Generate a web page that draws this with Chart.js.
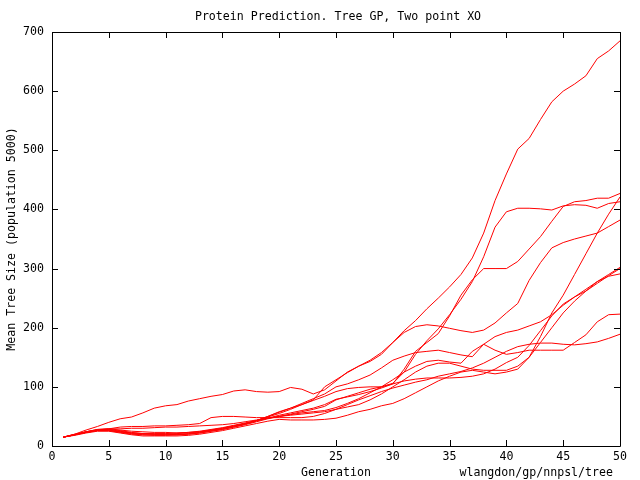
<!DOCTYPE html>
<html>
<head>
<meta charset="utf-8">
<script src="https://cdn.jsdelivr.net/npm/chart.js@4.4.1/dist/chart.umd.min.js"></script>
<style>
html,body{margin:0;padding:0;background:#fff;}
#wrap{width:640px;height:480px;}
</style>
</head>
<body>
<div id="wrap"><canvas id="c" width="640" height="480"></canvas></div>
<script>
const titleText = "Protein Prediction. Tree GP, Two point XO";
const xLabel = "Generation";
const yLabel = "Mean Tree Size (population 5000)";
const creditText = "wlangdon/gp/nnpsl/tree";

const generations = [1,2,3,4,5,6,7,8,9,10,11,12,13,14,15,16,17,18,19,20,21,22,23,24,25,26,27,28,29,30,31,32,33,34,35,36,37,38,39,40,41,42,43,44,45,46,47,48,49,50];

const runA = [15,19,23,27,28,25,22,21,20,20, 21,22,24,27,30,34,38,43,49,55, 62,70,78,100,112,124,135,145,158,175, 195,212,232,250,269,290,318,360,415,460, 502,520,552,582,600,612,626,655,668,685];
const runB = [15,20,24,28,29,27,25,24,23,23, 22,23,24,27,30,34,38,43,50,58, 64,70,77,84,92,97,99,100,100,106, 125,155,178,198,222,248,278,320,370,396, 402,402,401,399,406,408,407,402,410,413];
const runC = [15,19,24,27,27,24,21,19,18,18, 19,20,22,25,28,32,36,41,46,50, 54,58,62,67,78,84,90,96,100,105, 130,160,175,190,220,255,281,300,300,300, 312,333,354,380,405,413,415,419,419,427];
const runD = [15,20,27,33,40,46,49,56,64,68, 70,76,80,84,87,93,95,92,91,92, 99,96,88,95,110,125,135,143,155,175, 192,202,205,203,199,195,192,196,208,225, 241,280,310,335,344,350,355,360,371,382];
const runE = [15,19,23,26,26,23,20,19,19,19, 19,21,23,26,29,33,37,42,47,52, 56,60,64,70,79,83,87,92,98,105, 110,113,115,115,115,116,118,122,130,141, 150,170,195,220,240,252,262,275,288,300];
const runF = [15,19,23,27,28,26,23,21,20,20, 19,20,22,25,28,32,37,43,50,57, 64,72,80,88,100,105,112,120,132,145, 152,158,160,162,158,154,151,172,185,192, 196,203,210,222,238,252,265,278,287,291];
const runG = [15,19,24,28,29,29,30,30,31,32, 32,33,34,35,36,38,41,44,47,50, 52,54,56,58,62,66,70,78,88,100, 112,125,135,140,140,135,130,128,128,128, 135,150,175,200,225,245,262,278,290,302];
const runH = [15,19,23,26,26,24,22,21,21,21, 22,23,25,28,31,35,39,43,47,50, 53,56,58,60,65,72,80,90,100,112, 125,135,143,145,142,140,160,172,162,155, 158,162,162,162,162,175,188,210,222,223];
const runI = [15,19,24,27,29,32,33,33,34,34, 35,36,38,48,50,50,49,48,48,48, 48,48,50,55,62,70,78,85,92,98, 103,108,112,118,122,126,132,140,150,160, 168,172,174,174,172,171,173,176,182,189];
const runJ = [15,18,22,25,25,22,19,17,17,17, 17,18,20,23,26,30,34,38,42,45, 44,44,44,45,47,52,58,62,68,72, 80,90,100,110,118,125,128,125,122,125, 130,150,185,225,255,290,325,360,392,421];

const runs = [runA, runB, runC, runD, runE, runF, runG, runH, runI, runJ];

const FONT = "DejaVu Sans Mono";
const FS = 11.6;

const datasets = runs.map(r => ({
  data: r.map((v, i) => ({x: generations[i], y: v})),
  borderColor: '#ff0000',
  borderWidth: 1,
  pointRadius: 0,
  tension: 0,
  fill: false
}));

const gnuplotFrame = {
  id: 'gnuplotFrame',
  afterDraw(chart) {
    const ctx = chart.ctx;
    const a = chart.chartArea;
    const xs = chart.scales.x, ys = chart.scales.y;
    ctx.save();
    ctx.strokeStyle = '#000';
    ctx.lineWidth = 1;
    ctx.beginPath();
    ctx.rect(Math.round(a.left) + 0.5, Math.round(a.top) + 0.5, Math.round(a.right - a.left), Math.round(a.bottom - a.top));
    ctx.stroke();
    const tl = 6;
    ctx.beginPath();
    xs.ticks.forEach(t => {
      const px = Math.round(xs.getPixelForValue(t.value)) + 0.5;
      ctx.moveTo(px, a.bottom); ctx.lineTo(px, a.bottom - tl);
      ctx.moveTo(px, a.top); ctx.lineTo(px, a.top + tl);
    });
    ys.ticks.forEach(t => {
      const py = Math.round(ys.getPixelForValue(t.value)) + 0.5;
      ctx.moveTo(a.left, py); ctx.lineTo(a.left + tl, py);
      ctx.moveTo(a.right, py); ctx.lineTo(a.right - tl, py);
    });
    ctx.stroke();
    ctx.fillStyle = '#000';
    ctx.font = FS + 'px "' + FONT + '"';
    ctx.textBaseline = 'middle';
    ctx.textAlign = 'center';
    ctx.fillText(titleText, 338, 17);
    ctx.fillText(xLabel, 336, 473);
    ctx.textAlign = 'right';
    ctx.fillText(creditText, 613, 473);
    ctx.save();
    ctx.translate(12, 239);
    ctx.rotate(-Math.PI / 2);
    ctx.textAlign = 'center';
    ctx.fillText(yLabel, 0, 0);
    ctx.restore();
    ctx.restore();
  }
};

new Chart(document.getElementById('c'), {
  type: 'line',
  data: { datasets },
  options: {
    responsive: false,
    devicePixelRatio: 1,
    animation: false,
    layout: { padding: { top: 32, right: 20, bottom: 0, left: 0 } },
    plugins: { legend: { display: false }, title: { display: false }, tooltip: { enabled: false } },
    scales: {
      x: {
        type: 'linear', min: 0, max: 50,
        ticks: { stepSize: 5, color: '#000', font: { family: FONT, size: FS }, padding: 4, maxRotation: 0 },
        grid: { drawOnChartArea: false, drawTicks: false },
        border: { display: false },
        afterFit(s) { s.height = 34; }
      },
      y: {
        type: 'linear', min: 0, max: 700,
        ticks: { stepSize: 100, color: '#000', font: { family: FONT, size: FS }, padding: 8 },
        grid: { drawOnChartArea: false, drawTicks: false },
        border: { display: false },
        afterFit(s) { s.width = 52; }
      }
    }
  },
  plugins: [gnuplotFrame]
});
</script>
</body>
</html>
